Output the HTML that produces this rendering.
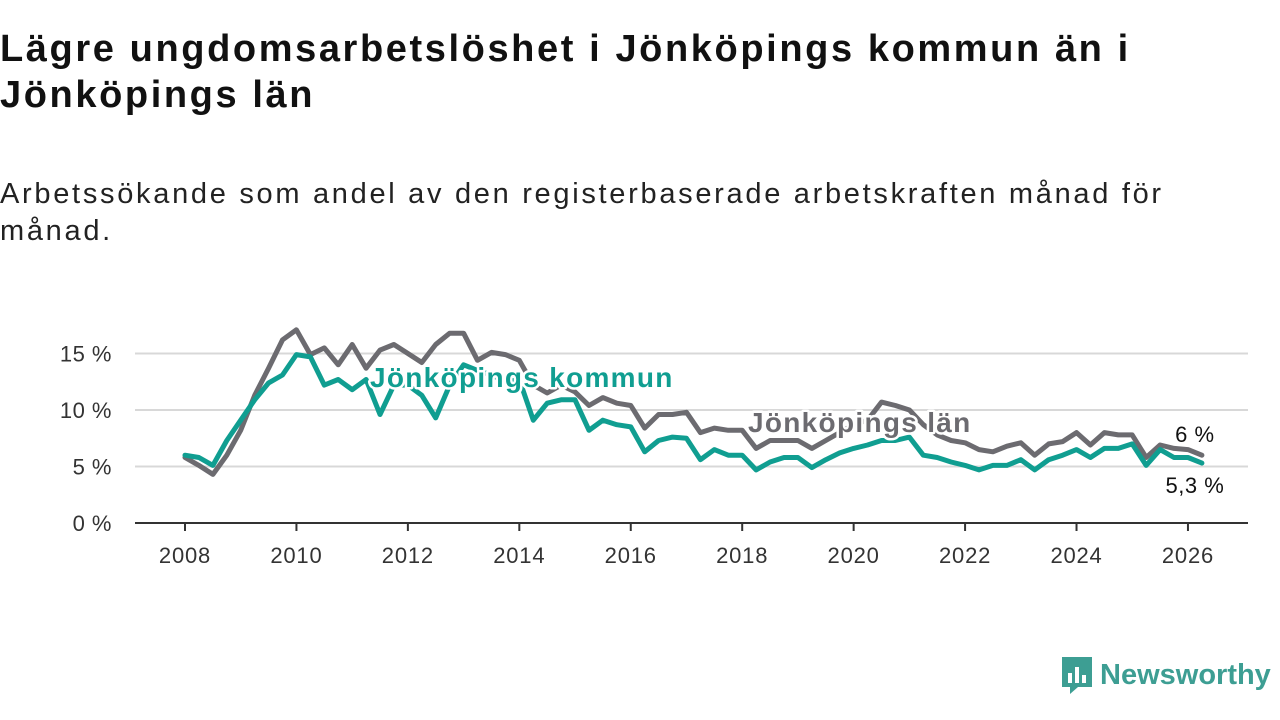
<!DOCTYPE html>
<html><head><meta charset="utf-8">
<style>
body{margin:0;width:1280px;height:720px;background:#fff;font-family:"Liberation Sans",sans-serif;overflow:hidden;position:relative}
h1{position:absolute;left:0;top:26px;margin:0;font-size:38px;line-height:46px;font-weight:bold;color:#111;width:1280px;letter-spacing:2.6px;white-space:nowrap}
.sub{position:absolute;left:0;top:176px;font-size:29px;line-height:37px;color:#222;width:1280px;letter-spacing:2.7px;white-space:nowrap}
svg{position:absolute;left:0;top:0}
</style></head><body>
<h1>Lägre ungdomsarbetslöshet i Jönköpings kommun än i<br>Jönköpings län</h1>
<div class="sub">Arbetssökande som andel av den registerbaserade arbetskraften månad för<br>månad.</div>
<svg id="chart" width="1280" height="720"></svg>
<div style="position:absolute;left:1060px;top:655px;display:flex;align-items:center">
<svg width="34" height="40" style="position:static"><path d="M2 2h30v30h-14l-8 7v-7h-8z" fill="#3d9e93"/><rect x="8" y="18" width="4" height="10" fill="#fff"/><rect x="15" y="12" width="4" height="16" fill="#fff"/><rect x="22" y="20" width="4" height="8" fill="#fff"/></svg>
<span style="font-size:29px;font-weight:bold;color:#3d9e93;margin-left:6px">Newsworthy</span></div>
<script>
const startYear = 2008;
const stepYears = 0.25;
const yTicks = [0, 5, 10, 15];
const xTicks = [2008, 2010, 2012, 2014, 2016, 2018, 2020, 2022, 2024, 2026];
const lanValues = [5.8,5.1,4.3,6.0,8.2,11.3,13.7,16.2,17.1,14.9,15.5,14.0,15.8,13.7,15.3,15.8,15.0,14.2,15.8,16.8,16.8,14.4,15.1,14.9,14.4,12.2,11.5,12.2,11.6,10.4,11.1,10.6,10.4,8.4,9.6,9.6,9.8,8.0,8.4,8.2,8.2,6.6,7.3,7.3,7.3,6.6,7.3,8.0,8.7,9.1,10.7,10.4,10.0,8.7,7.8,7.3,7.1,6.5,6.3,6.8,7.1,6.0,7.0,7.2,8.0,6.9,8.0,7.8,7.8,5.8,6.9,6.6,6.5,6.0];
const kommunValues = [6.0,5.8,5.1,7.3,9.1,10.9,12.4,13.1,14.9,14.7,12.2,12.7,11.8,12.7,9.6,12.2,12.2,11.3,9.3,12.2,14.0,13.5,13.1,12.5,12.7,9.1,10.6,10.9,10.9,8.2,9.1,8.7,8.5,6.3,7.3,7.6,7.5,5.6,6.5,6.0,6.0,4.7,5.4,5.8,5.8,4.9,5.6,6.2,6.6,6.9,7.3,7.3,7.6,6.0,5.8,5.4,5.1,4.7,5.1,5.1,5.6,4.7,5.6,6.0,6.5,5.8,6.6,6.6,7.0,5.1,6.5,5.8,5.8,5.3];
const lanLast = "6 %", kommunLast = "5,3 %";

const svg = document.getElementById('chart');
const NS = 'http://www.w3.org/2000/svg';
const X = yr => 185 + (yr - 2008) * 55.72;
const Y = v => 523 - v * 11.3;
function mk(tag, attrs, parent){const e=document.createElementNS(NS,tag);for(const k in attrs)e.setAttribute(k,attrs[k]);(parent||svg).appendChild(e);return e;}

yTicks.forEach(t=>{
  if(t>0){const g=mk('line',{x1:135,x2:1248,y1:Y(t),y2:Y(t),stroke:'#d8d8d8','stroke-width':2});
  
  }
  const l=mk('text',{x:112,y:Y(t)+8,'text-anchor':'end','font-size':22,fill:'#333','font-family':'Liberation Sans, sans-serif','letter-spacing':0.5});
  l.textContent=t+' %';
  
  
});
const ax=mk('line',{x1:135,x2:1248,y1:Y(0),y2:Y(0),stroke:'#333','stroke-width':2});


xTicks.forEach(t=>{
  const tk=mk('line',{x1:X(t),x2:X(t),y1:Y(0),y2:Y(0)+8,stroke:'#333','stroke-width':2});
  
  
  const l=mk('text',{x:X(t),y:563,'text-anchor':'middle','font-size':22,fill:'#333','font-family':'Liberation Sans, sans-serif','letter-spacing':0.8});
  l.textContent=t;
  
  
});
function line(vals,color,name){
  const d=vals.map((v,i)=>(i?'L':'M')+X(startYear+i*stepYears).toFixed(1)+' '+Y(v).toFixed(1)).join(' ');
  const p=mk('path',{d:d,fill:'none',stroke:color,'stroke-width':5,'stroke-linejoin':'round','stroke-linecap':'round'});
  
  
}
line(lanValues,'#6c6b70','series-jonkopings-lan');
line(kommunValues,'#109e91','series-jonkopings-kommun');
function label(txt,x,y,color,size,weight,name,anchor,ls){
  const t=mk('text',{x:x,y:y,'font-size':size,'font-weight':weight,fill:color,stroke:'#fff','stroke-width':5,'paint-order':'stroke','stroke-linejoin':'round','text-anchor':anchor||'start','font-family':'Liberation Sans, sans-serif','letter-spacing':ls||0});
  t.textContent=txt;
  
  
}
label('Jönköpings kommun',370,387,'#109e91',28,'bold','label-kommun','start',1.3);
label('Jönköpings län',748,432,'#6c6b70',28,'bold','label-lan','start',1.3);
const nL=lanValues.length-1;
label(lanLast,X(startYear+nL*stepYears)-7,Y(lanValues[nL])-13,'#111',22,'normal','end-value-lan','middle',0.5);
label(kommunLast,X(startYear+nL*stepYears)-7,Y(kommunValues[nL])+30,'#111',22,'normal','end-value-kommun','middle',0.5);
</script>
</body></html>
